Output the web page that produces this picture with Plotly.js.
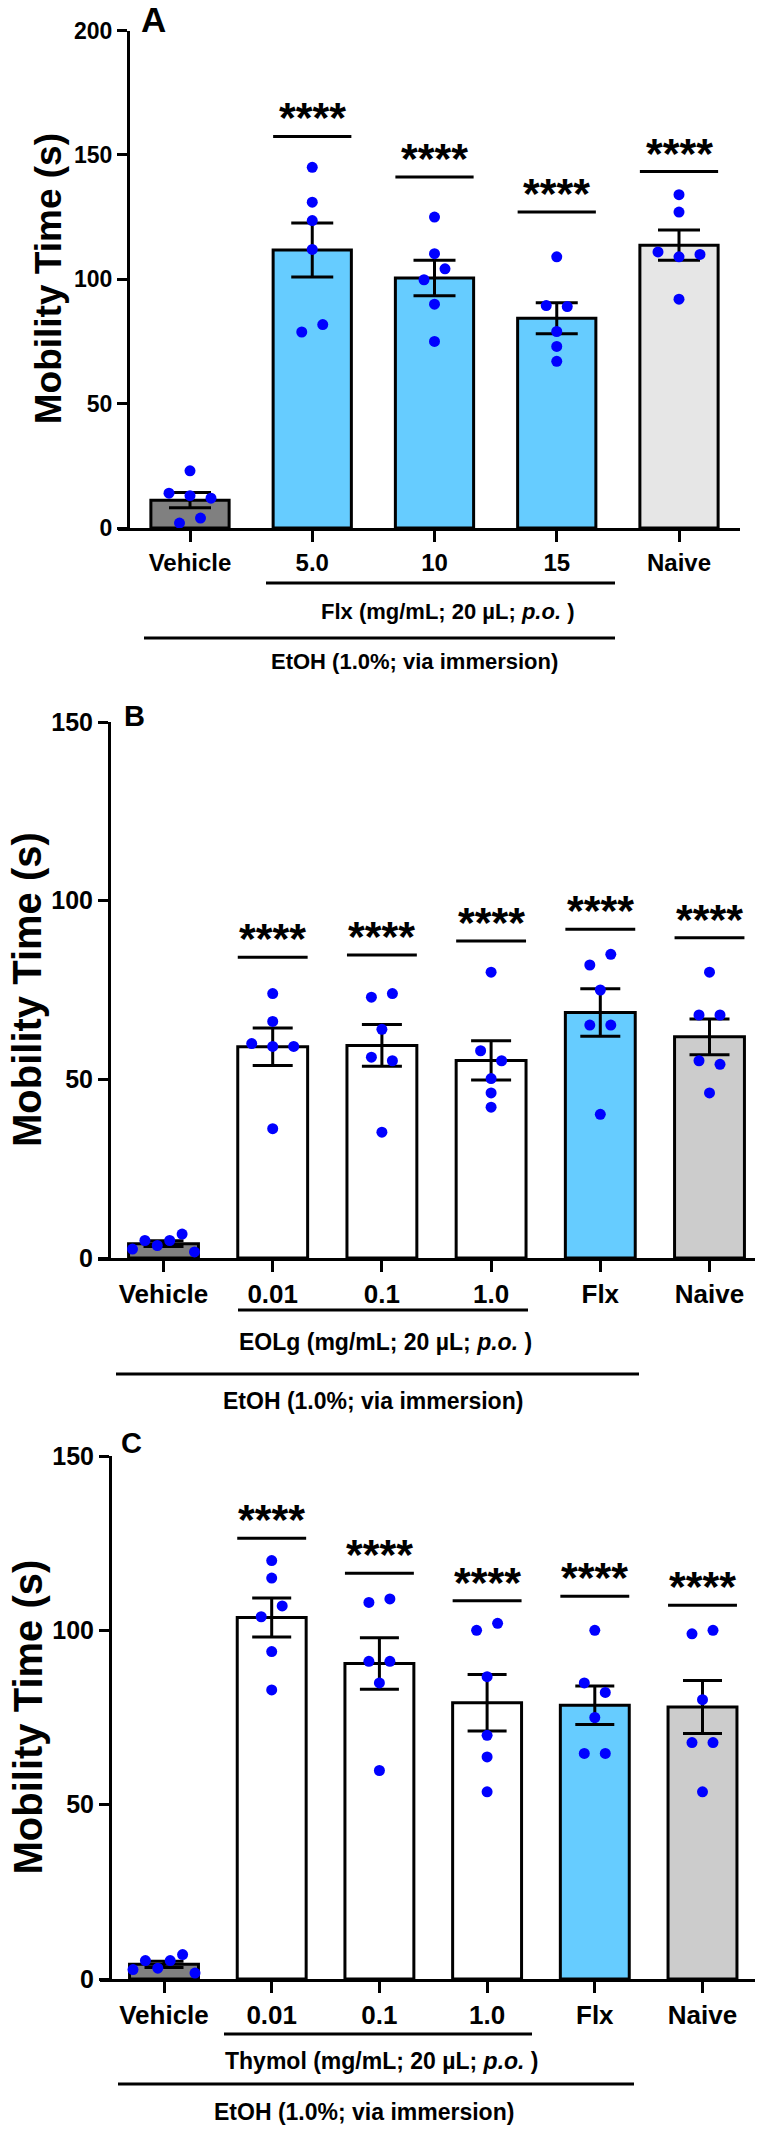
<!DOCTYPE html>
<html><head><meta charset="utf-8">
<script src="https://cdn.plot.ly/plotly-3.0.1.min.js"></script>
<style>html,body{margin:0;padding:0;background:#fff}#chart{width:768px;height:2131px}</style>
</head><body><div id="chart"></div>
<script>
// ---------------- DATA ----------------
const catsA = ['Vehicle', '5.0', '10', '15', 'Naive'];
const catsB = ['Vehicle', '0.01', '0.1', '1.0', 'Flx', 'Naive'];
const catsC = ['Vehicle', '0.01', '0.1', '1.0', 'Flx', 'Naive'];

// individual animals (s)
const ptsA = [
  [23, 14, 13, 12, 2, 4],
  [145, 131, 123.6, 112, 78.8, 81.8],
  [125, 110.3, 99.8, 104.2, 90, 75],
  [109, 89.4, 89, 79, 73, 67],
  [134, 127, 111, 109, 110, 92]
];
const ptsB = [
  [2.5, 4.9, 3.5, 4.9, 6.7, 1.7],
  [74, 66.2, 60, 59.2, 59.2, 36.2],
  [73, 74, 64, 56.2, 55.2, 35.2],
  [80, 58, 55.2, 50.2, 46.2, 42.2],
  [82, 85, 75, 65.2, 65.2, 40.2],
  [80, 68, 68, 55.2, 54.2, 46.2]
];
const ptsC = [
  [2.7, 5.3, 3.1, 5.3, 7, 1.7],
  [120, 115, 103.9, 107, 93.9, 82.9],
  [108, 109, 91.1, 91.1, 84.9, 59.8],
  [100, 102, 86.7, 69.9, 63.7, 53.7],
  [100, 84.9, 82.2, 75, 64.7, 64.7],
  [99, 100, 80.1, 67.8, 67.8, 53.7]
];

// bar heights (mean) and SEM
const meanA = [11.2, 111.8, 100.5, 84.3, 113.7];
const semA  = [3.1, 10.85, 7.1, 6.25, 6.1];
const meanB = [4.0, 59.1, 59.5, 55.3, 68.7, 61.9];
const semB  = [0.8, 5.25, 5.85, 5.5, 6.65, 5.0];
const meanC = [4.2, 103.7, 90.5, 79.2, 78.5, 78.0];
const semC  = [0.9, 5.6, 7.4, 8.1, 5.5, 7.6];

// significance brackets (group index, bracket height in s)
const sigGroupsA = [1, 2, 3, 4];
const sigLevelA  = [157.4, 141.1, 127, 143.3];
const sigGroupsB = [1, 2, 3, 4, 5];
const sigLevelB  = [84.2, 84.8, 88.7, 92, 89.6];
const sigGroupsC = [1, 2, 3, 4, 5];
const sigLevelC  = [126.4, 116.4, 108.5, 109.8, 107.2];
const sigText = '****';

const yTicksA = [0, 50, 100, 150, 200];
const yTicksBC = [0, 50, 100, 150];

const yTitle = 'Mobility Time (s)';
const groupA = 'Flx (mg/mL; 20 µL; <i>p.o.</i> )';
const groupB = 'EOLg (mg/mL; 20 µL; <i>p.o.</i> )';
const groupC = 'Thymol (mg/mL; 20 µL; <i>p.o.</i> )';
const etohText = 'EtOH (1.0%; via immersion)';

// ---------------- STYLE / LAYOUT ----------------
const W = 768, H = 2131;
const FONT = 'Liberation Sans, Arial, Helvetica, sans-serif';
const BLUE_DOT = '#0000FF';
const colorsA = ['#808080', '#66CCFF', '#66CCFF', '#66CCFF', '#E6E6E6'];
const colorsBC = ['#808080', '#FFFFFF', '#FFFFFF', '#FFFFFF', '#66CCFF', '#CCCCCC'];
const BAR_W = 0.64;

const panels = [
  {cats: catsA, pts: ptsA, mean: meanA, sem: semA, colors: colorsA, sigG: sigGroupsA, sigL: sigLevelA,
   yMax: 200, yTicks: yTicksA, yTop: 30.5, yBot: 528, axisX: 128, xL: 118, xR: 740, c0: 190, sp: 122.25,
   tickSize: 24, ytickSize: 23, titleSize: 37, titleX: 48, cap: 21, letter: 'A', letterX: 153, letterY: 19.5, letterSize: 35,
   group: groupA, groupSize: 22, gLine: [266, 615, 583], gText: [447, 611],
   eLine: [144, 615, 638], eText: [414, 662]},
  {cats: catsB, pts: ptsB, mean: meanB, sem: semB, colors: colorsBC, sigG: sigGroupsB, sigL: sigLevelB,
   yMax: 150, yTicks: yTicksBC, yTop: 722, yBot: 1258, axisX: 109, xL: 98, xR: 755, c0: 163.5, sp: 109.2,
   tickSize: 26, ytickSize: 25, titleSize: 40, titleX: 27, cap: 20, letter: 'B', letterX: 134, letterY: 716, letterSize: 29,
   group: groupB, groupSize: 23, gLine: [238, 528, 1310], gText: [385, 1342],
   eLine: [116, 639, 1374], eText: [373, 1401]},
  {cats: catsC, pts: ptsC, mean: meanC, sem: semC, colors: colorsBC, sigG: sigGroupsC, sigL: sigLevelC,
   yMax: 150, yTicks: yTicksBC, yTop: 1456, yBot: 1979, axisX: 110, xL: 100, xR: 755, c0: 164, sp: 107.7,
   tickSize: 26, ytickSize: 25, titleSize: 40, titleX: 27, cap: 19.5, letter: 'C', letterX: 131, letterY: 1443, letterSize: 29,
   group: groupC, groupSize: 23, gLine: [224, 532, 2034], gText: [382, 2061],
   eLine: [118, 634, 2084], eText: [364, 2112]}
];

// beeswarm: cluster close values, spread each cluster symmetrically
function swarm(vals, pxPerUnit, spacingPx, maxSpreadPx, thresholdPx) {
  const order = vals.map((v, i) => i).sort((a, b) => vals[a] - vals[b]);
  const clusters = [];
  let cur = [order[0]];
  for (let k = 1; k < order.length; k++) {
    const gap = (vals[order[k]] - vals[order[k - 1]]) * pxPerUnit;
    if (gap < thresholdPx) cur.push(order[k]); else { clusters.push(cur); cur = [order[k]]; }
  }
  clusters.push(cur);
  const off = new Array(vals.length).fill(0);
  clusters.forEach(cl => {
    cl.sort((a, b) => a - b);
    const n = cl.length;
    const s = n > 1 ? Math.min(spacingPx, maxSpreadPx / (n - 1)) : 0;
    cl.forEach((idx, k) => { off[idx] = (k - (n - 1) / 2) * s; });
  });
  return off;
}

const px = p => p / W;
const py = p => 1 - p / H;
const traces = [];
const shapes = [];
const annotations = [];
const layout = {
  width: W, height: H, margin: {l: 0, r: 0, t: 0, b: 0},
  paper_bgcolor: '#fff', plot_bgcolor: 'rgba(0,0,0,0)', showlegend: false,
  font: {family: FONT, color: '#000'}, bargap: 0
};

panels.forEach((P, pi) => {
  const s = pi === 0 ? '' : String(pi + 1);
  const xa = 'x' + s, ya = 'y' + s;
  const idx = P.cats.map((c, i) => i);
  const xRange = [(P.xL - P.c0) / P.sp, (P.xR - P.c0) / P.sp];
  const pxPerUnit = (P.yBot - P.yTop) / P.yMax;

  layout['xaxis' + s] = {
    domain: [px(P.xL), px(P.xR)], range: xRange, anchor: ya, fixedrange: true,
    tickmode: 'array', tickvals: idx, ticktext: P.cats,
    ticks: 'outside', ticklen: 11, tickwidth: 3, tickcolor: '#000',
    showline: true, linewidth: 3, linecolor: '#000', showgrid: false, zeroline: false,
    tickfont: {family: FONT, size: P.tickSize, color: '#000', weight: 'bold'}
  };
  layout['yaxis' + s] = {
    domain: [py(P.yBot), py(P.yTop)], range: [0, P.yMax], anchor: 'free', position: px(P.axisX),
    fixedrange: true, tickmode: 'array', tickvals: P.yTicks,
    ticks: 'outside', ticklen: 10, tickwidth: 3, tickcolor: '#000',
    showline: true, linewidth: 3, linecolor: '#000', showgrid: false, zeroline: false,
    tickfont: {family: FONT, size: P.ytickSize, color: '#000', weight: 'bold'}
  };

  traces.push({
    type: 'bar', x: idx, y: P.mean, width: BAR_W, xaxis: xa, yaxis: ya,
    marker: {color: P.colors, line: {color: '#000', width: 3}},
    error_y: {type: 'data', array: P.sem, visible: true, color: '#000', thickness: 3, width: P.cap},
    hoverinfo: 'skip', showlegend: false
  });

  const xs = [], ys = [];
  P.pts.forEach((vals, g) => {
    const off = swarm(vals, pxPerUnit, 21, 62, 13);
    vals.forEach((v, k) => { xs.push(g + off[k] / P.sp); ys.push(v); });
  });
  traces.push({
    type: 'scatter', mode: 'markers', x: xs, y: ys, xaxis: xa, yaxis: ya, cliponaxis: false,
    marker: {color: BLUE_DOT, size: 11, line: {width: 0}}, hoverinfo: 'skip', showlegend: false
  });

  P.sigG.forEach((g, k) => {
    shapes.push({type: 'line', xref: xa, yref: ya, x0: g - BAR_W / 2, x1: g + BAR_W / 2,
      y0: P.sigL[k], y1: P.sigL[k], line: {color: '#000', width: 3}});
    annotations.push({xref: xa, yref: ya, x: g, y: P.sigL[k], text: sigText, showarrow: false,
      xanchor: 'center', yanchor: 'middle', yshift: 19,
      font: {family: FONT, size: 43, color: '#000', weight: 'bold'}});
  });

  // group lines & labels
  shapes.push({type: 'line', xref: 'paper', yref: 'paper', x0: px(P.gLine[0]), x1: px(P.gLine[1]),
    y0: py(P.gLine[2]), y1: py(P.gLine[2]), line: {color: '#000', width: 3}});
  shapes.push({type: 'line', xref: 'paper', yref: 'paper', x0: px(P.eLine[0]), x1: px(P.eLine[1]),
    y0: py(P.eLine[2]), y1: py(P.eLine[2]), line: {color: '#000', width: 3}});
  annotations.push({xref: 'paper', yref: 'paper', x: px(P.gText[0]), y: py(P.gText[1]), text: P.group,
    showarrow: false, xanchor: 'center', yanchor: 'middle',
    font: {family: FONT, size: P.groupSize, color: '#000', weight: 'bold'}});
  annotations.push({xref: 'paper', yref: 'paper', x: px(P.eText[0]), y: py(P.eText[1]), text: etohText,
    showarrow: false, xanchor: 'center', yanchor: 'middle',
    font: {family: FONT, size: P.groupSize, color: '#000', weight: 'bold'}});

  // y title
  annotations.push({xref: 'paper', yref: 'paper', x: px(P.titleX), y: py((P.yTop + P.yBot) / 2), text: yTitle,
    textangle: -90, showarrow: false, xanchor: 'center', yanchor: 'middle',
    font: {family: FONT, size: P.titleSize, color: '#000', weight: 'bold'}});
  // panel letter
  annotations.push({xref: 'paper', yref: 'paper', x: px(P.letterX), y: py(P.letterY), text: P.letter,
    showarrow: false, xanchor: 'center', yanchor: 'middle',
    font: {family: FONT, size: P.letterSize, color: '#000', weight: 'bold'}});
});

layout.shapes = shapes;
layout.annotations = annotations;
Plotly.newPlot('chart', traces, layout, {staticPlot: true, displayModeBar: false});
</script></body></html>
